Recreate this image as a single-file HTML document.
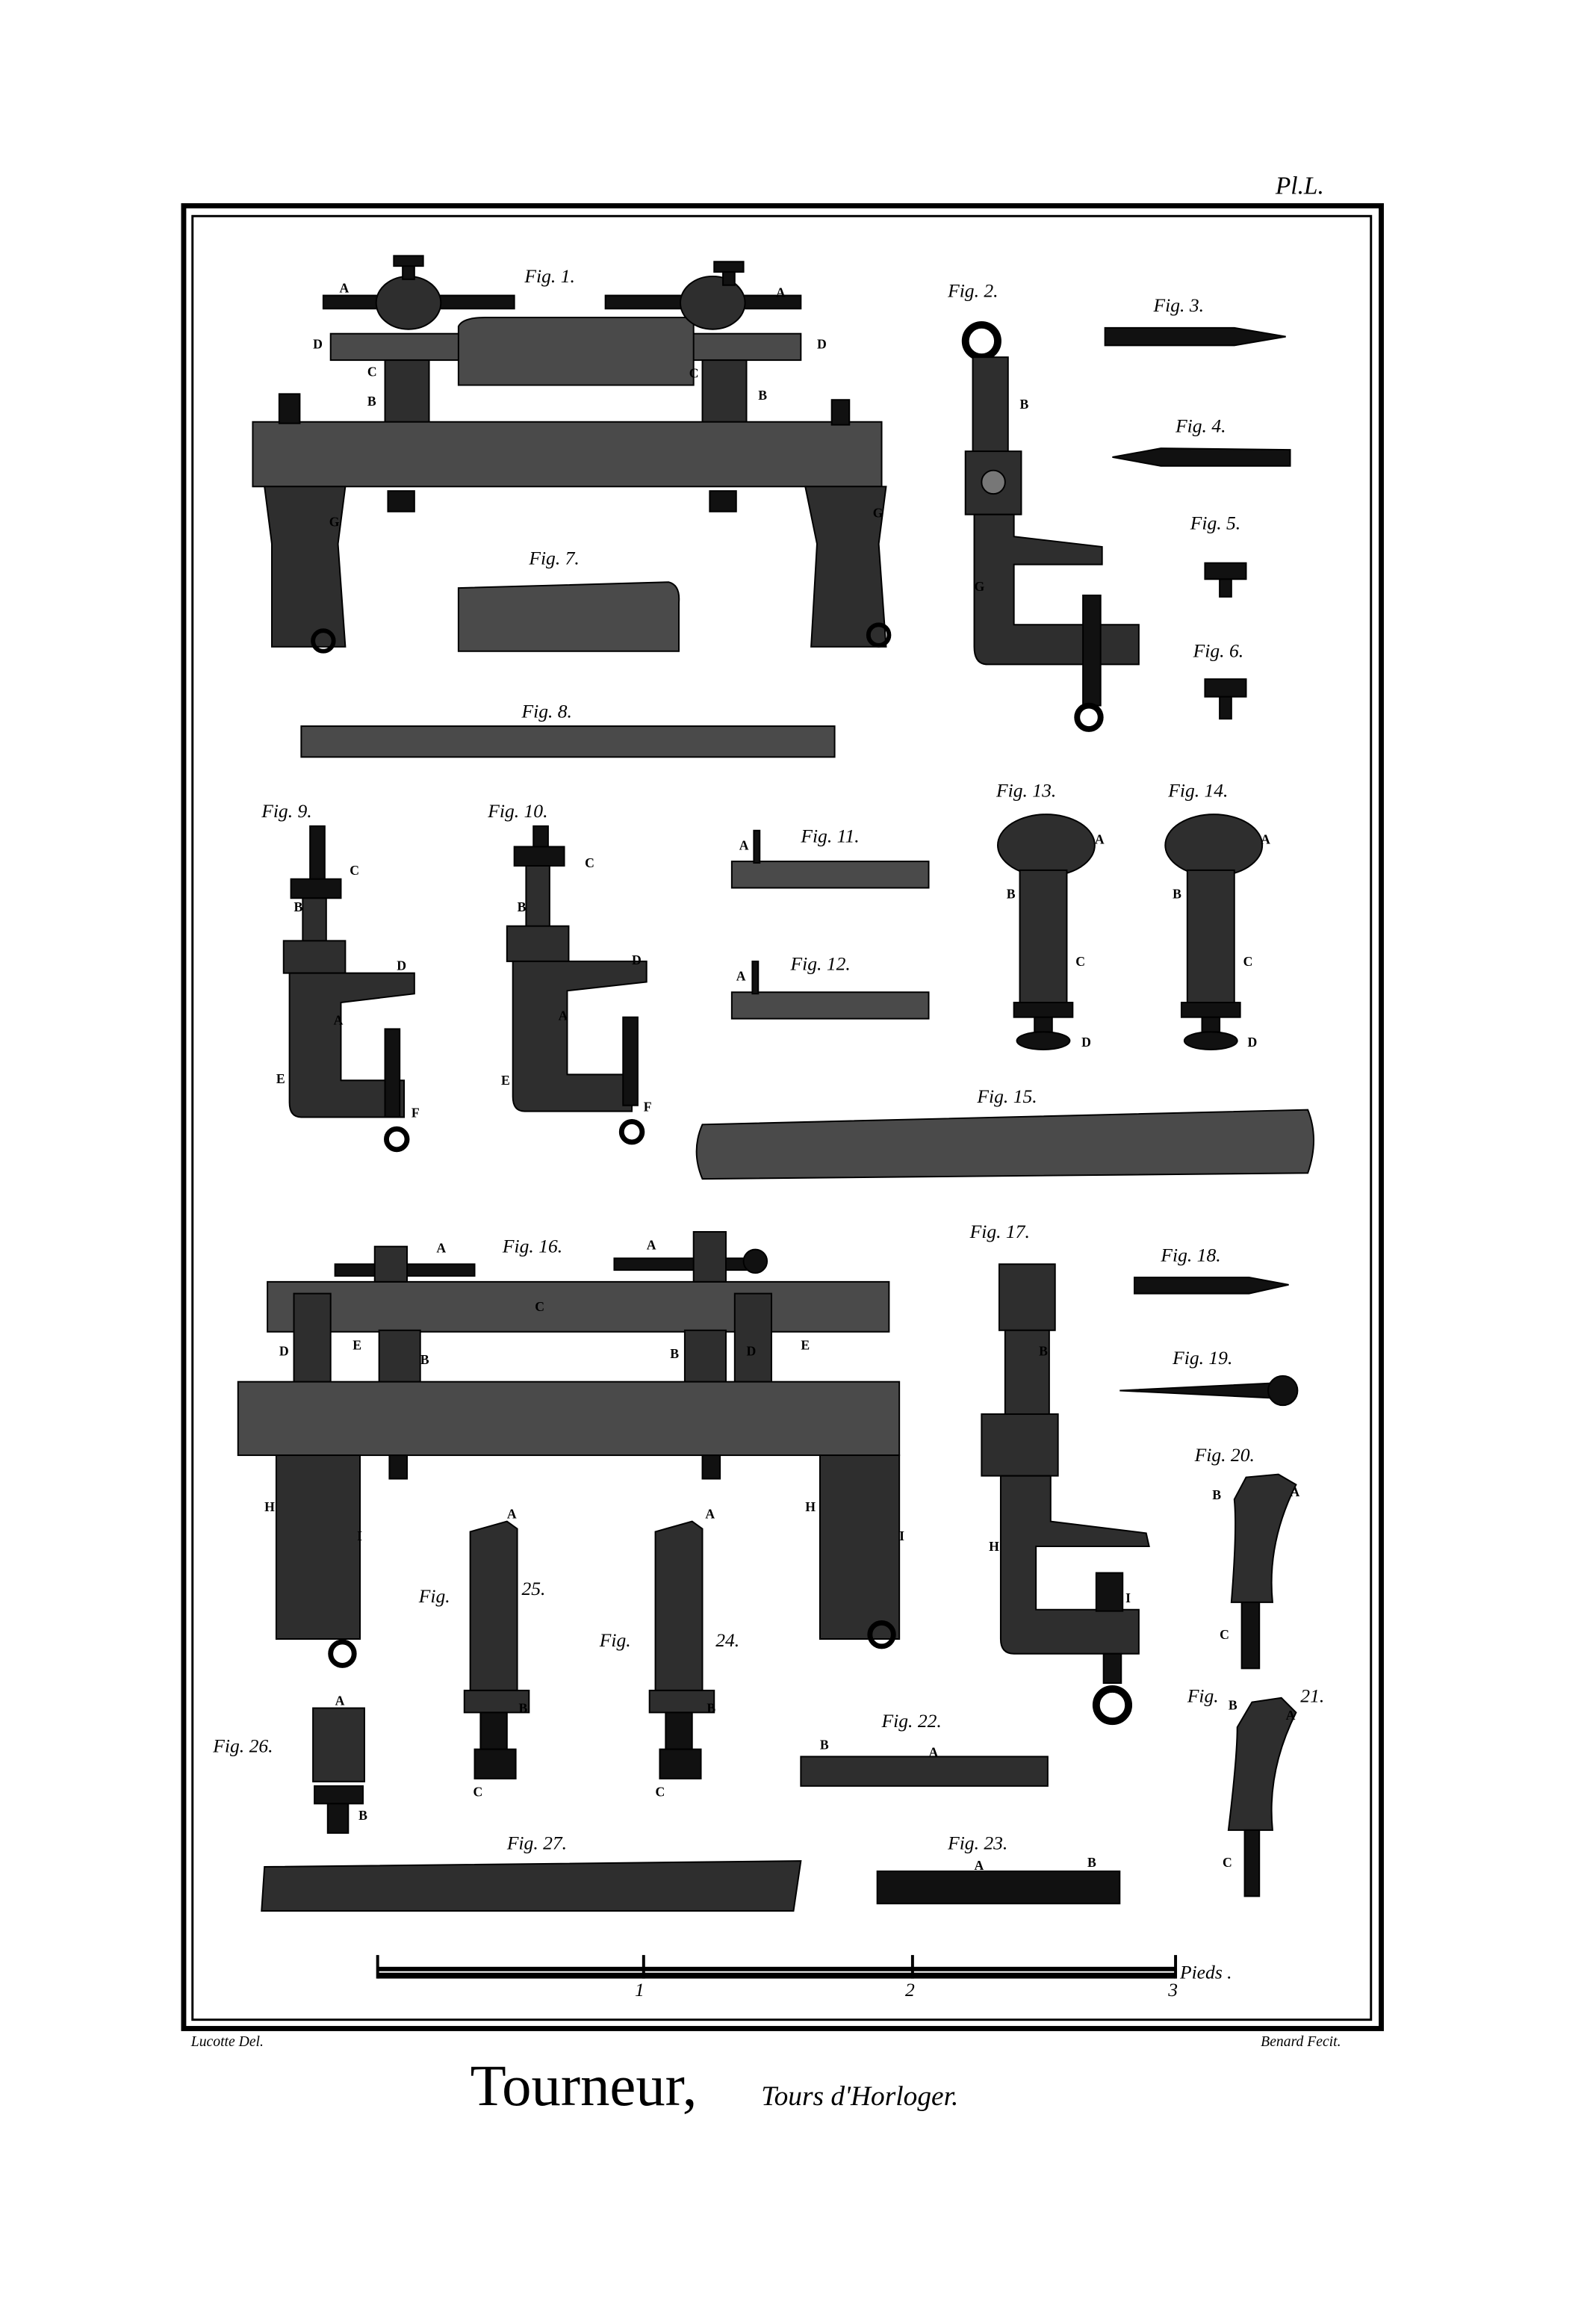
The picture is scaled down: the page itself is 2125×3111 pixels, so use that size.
<!DOCTYPE html>
<html><head><meta charset="utf-8"><style>
html,body{margin:0;padding:0;background:#fff}
svg{display:block}
.f{font-family:"Liberation Serif",serif;font-style:italic;font-size:13px;fill:#000}
.l{font-family:"Liberation Serif",serif;font-weight:bold;font-size:9px;fill:#000}
.d{fill:#2e2e2e;stroke:#000;stroke-width:1}
.m{fill:#4a4a4a;stroke:#000;stroke-width:1}
.k{fill:#111;stroke:#000;stroke-width:1}
</style></head><body>
<svg width="2125" height="3111" viewBox="0 0 1080 1581" preserveAspectRatio="none" xmlns="http://www.w3.org/2000/svg">
<rect width="1080" height="1581" fill="#fff"/>
<!-- border -->
<rect x="125" y="140" width="815" height="1240" fill="none" stroke="#000" stroke-width="3.5"/>
<rect x="131" y="147" width="802" height="1227" fill="none" stroke="#000" stroke-width="1.5"/>
<text x="868" y="132" class="f" style="font-size:17px">Pl.L.</text>
<text x="130" y="1392" class="f" style="font-size:10px">Lucotte Del.</text>
<text x="858" y="1392" class="f" style="font-size:10px">Benard Fecit.</text>
<text x="320" y="1432" class="f" style="font-size:40px;font-style:normal;font-family:'Liberation Serif',serif">Tourneur,</text>
<text x="518" y="1432" class="f" style="font-size:19px">Tours d'Horloger.</text>

<!-- Fig 1 -->
<text x="357" y="192" class="f">Fig. 1.</text>
<rect x="225" y="227" width="320" height="18" class="m"/>
<path d="M312 222 Q315 216 330 216 L472 216 L472 262 L312 262Z" class="m"/>
<rect x="220" y="201" width="130" height="9" class="k"/>
<ellipse cx="278" cy="206" rx="22" ry="18" class="d"/>
<rect x="274" y="178" width="8" height="12" class="k"/><rect x="268" y="174" width="20" height="7" class="k"/>
<rect x="412" y="201" width="133" height="9" class="k"/>
<ellipse cx="485" cy="206" rx="22" ry="18" class="d"/>
<rect x="492" y="182" width="8" height="12" class="k"/><rect x="486" y="178" width="20" height="7" class="k"/>
<rect x="262" y="245" width="30" height="45" class="d"/>
<rect x="478" y="245" width="30" height="45" class="d"/>
<rect x="172" y="287" width="428" height="44" class="m"/>
<rect x="190" y="268" width="14" height="20" class="k"/>
<rect x="566" y="272" width="12" height="17" class="k"/>
<path d="M180 331 L235 331 L230 370 L235 440 L185 440 L185 370Z" class="d"/>
<path d="M548 331 L603 331 L598 370 L603 440 L552 440 L556 370Z" class="d"/>
<circle cx="220" cy="436" r="7" fill="none" stroke="#000" stroke-width="3"/>
<circle cx="598" cy="432" r="7" fill="none" stroke="#000" stroke-width="3"/>
<rect x="264" y="334" width="18" height="14" class="k"/>
<rect x="483" y="334" width="18" height="14" class="k"/>
<text x="231" y="199" class="l">A</text><text x="528" y="202" class="l">A</text>
<text x="213" y="237" class="l">D</text><text x="556" y="237" class="l">D</text>
<text x="250" y="256" class="l">C</text><text x="469" y="257" class="l">C</text>
<text x="250" y="276" class="l">B</text><text x="516" y="272" class="l">B</text>
<text x="224" y="358" class="l">G</text><text x="594" y="352" class="l">G</text>

<!-- Fig 7, 8 -->
<text x="360" y="384" class="f">Fig. 7.</text>
<path d="M312 400 L455 396 Q463 398 462 410 L462 443 L312 443Z" class="m"/>
<text x="355" y="488" class="f">Fig. 8.</text>
<rect x="205" y="494" width="363" height="21" class="m"/>

<!-- Fig 2 -->
<text x="645" y="202" class="f">Fig. 2.</text>
<circle cx="668" cy="232" r="11" fill="none" stroke="#000" stroke-width="5"/>
<rect x="662" y="243" width="24" height="66" class="d"/>
<rect x="657" y="307" width="38" height="43" class="d"/>
<circle cx="676" cy="328" r="8" fill="#777" stroke="#000"/>
<path d="M663 350 L690 350 L690 365 L750 372 L750 384 L690 384 L690 425 L775 425 L775 452 L672 452 Q663 452 663 440Z" class="d"/>
<rect x="737" y="405" width="12" height="75" class="k"/>
<circle cx="741" cy="488" r="8" fill="none" stroke="#000" stroke-width="4"/>
<text x="694" y="278" class="l">B</text><text x="663" y="402" class="l">G</text>

<!-- Fig 3-6 -->
<text x="785" y="212" class="f">Fig. 3.</text>
<path d="M752 223 L840 223 L875 229 L840 235 L752 235Z" class="k"/>
<text x="800" y="294" class="f">Fig. 4.</text>
<path d="M757 311 L790 305 L878 306 L878 317 L790 317Z" class="k"/>
<text x="810" y="360" class="f">Fig. 5.</text>
<rect x="820" y="383" width="28" height="11" class="k"/><rect x="830" y="394" width="8" height="12" class="k"/>
<text x="812" y="447" class="f">Fig. 6.</text>
<rect x="820" y="462" width="28" height="12" class="k"/><rect x="830" y="474" width="8" height="15" class="k"/>

<!-- Fig 9 -->
<text x="178" y="556" class="f">Fig. 9.</text>
<rect x="211" y="562" width="10" height="38" class="k"/>
<rect x="198" y="598" width="34" height="13" class="k"/>
<rect x="206" y="611" width="16" height="30" class="d"/>
<rect x="193" y="640" width="42" height="22" class="d"/>
<path d="M197 662 L282 662 L282 676 L232 682 L232 735 L275 735 L275 760 L205 760 Q197 760 197 750Z" class="d"/>
<rect x="262" y="700" width="10" height="60" class="k"/>
<circle cx="270" cy="775" r="7" fill="none" stroke="#000" stroke-width="3.5"/>
<text x="238" y="595" class="l">C</text><text x="200" y="620" class="l">B</text><text x="270" y="660" class="l">D</text>
<text x="227" y="697" class="l">A</text><text x="188" y="737" class="l">E</text><text x="280" y="760" class="l">F</text>
<!-- Fig 10 -->
<text x="332" y="556" class="f">Fig. 10.</text>
<rect x="363" y="562" width="10" height="38" class="k"/>
<rect x="350" y="576" width="34" height="13" class="k"/>
<rect x="358" y="589" width="16" height="44" class="d"/>
<rect x="345" y="630" width="42" height="24" class="d"/>
<path d="M349 654 L440 654 L440 668 L386 674 L386 731 L430 731 L430 756 L357 756 Q349 756 349 746Z" class="d"/>
<rect x="424" y="692" width="10" height="60" class="k"/>
<circle cx="430" cy="770" r="7" fill="none" stroke="#000" stroke-width="3.5"/>
<text x="398" y="590" class="l">C</text><text x="352" y="620" class="l">B</text><text x="430" y="656" class="l">D</text>
<text x="380" y="694" class="l">A</text><text x="341" y="738" class="l">E</text><text x="438" y="756" class="l">F</text>

<!-- Fig 11, 12 -->
<text x="545" y="573" class="f">Fig. 11.</text>
<rect x="498" y="586" width="134" height="18" class="m"/><rect x="513" y="565" width="4" height="22" class="k"/>
<text x="503" y="578" class="l">A</text>
<text x="538" y="660" class="f">Fig. 12.</text>
<rect x="498" y="675" width="134" height="18" class="m"/><rect x="512" y="654" width="4" height="22" class="k"/>
<text x="501" y="667" class="l">A</text>

<!-- Fig 13, 14 -->
<text x="678" y="542" class="f">Fig. 13.</text>
<ellipse cx="712" cy="575" rx="33" ry="21" class="d"/>
<rect x="694" y="592" width="32" height="98" class="d"/>
<rect x="690" y="682" width="40" height="10" class="k"/>
<rect x="704" y="692" width="12" height="10" class="k"/>
<ellipse cx="710" cy="708" rx="18" ry="6" class="k"/>
<text x="745" y="574" class="l">A</text><text x="685" y="611" class="l">B</text><text x="732" y="657" class="l">C</text><text x="736" y="712" class="l">D</text>
<text x="795" y="542" class="f">Fig. 14.</text>
<ellipse cx="826" cy="575" rx="33" ry="21" class="d"/>
<rect x="808" y="592" width="32" height="98" class="d"/>
<rect x="804" y="682" width="40" height="10" class="k"/>
<rect x="818" y="692" width="12" height="10" class="k"/>
<ellipse cx="824" cy="708" rx="18" ry="6" class="k"/>
<text x="858" y="574" class="l">A</text><text x="798" y="611" class="l">B</text><text x="846" y="657" class="l">C</text><text x="849" y="712" class="l">D</text>

<!-- Fig 15 -->
<text x="665" y="750" class="f">Fig. 15.</text>
<path d="M478 765 L890 755 Q898 775 890 798 L478 802 Q470 783 478 765Z" class="m"/>

<!-- Fig 16 -->
<text x="342" y="852" class="f">Fig. 16.</text>
<rect x="182" y="872" width="423" height="34" class="m"/>
<rect x="228" y="860" width="95" height="8" class="k"/>
<rect x="255" y="848" width="22" height="24" class="d"/>
<rect x="418" y="856" width="95" height="8" class="k"/>
<rect x="472" y="838" width="22" height="34" class="d"/>
<circle cx="514" cy="858" r="8" class="k"/>
<rect x="200" y="880" width="25" height="98" class="d"/>
<rect x="500" y="880" width="25" height="98" class="d"/>
<rect x="258" y="905" width="28" height="40" class="d"/>
<rect x="466" y="905" width="28" height="40" class="d"/>
<rect x="162" y="940" width="450" height="50" class="m"/>
<rect x="188" y="990" width="57" height="125" class="d"/>
<rect x="558" y="990" width="54" height="125" class="d"/>
<circle cx="233" cy="1125" r="8" fill="none" stroke="#000" stroke-width="3.5"/>
<circle cx="600" cy="1112" r="8" fill="none" stroke="#000" stroke-width="3.5"/>
<rect x="265" y="990" width="12" height="16" class="k"/><rect x="478" y="990" width="12" height="16" class="k"/>
<text x="297" y="852" class="l">A</text><text x="440" y="850" class="l">A</text>
<text x="364" y="892" class="l">C</text><text x="190" y="922" class="l">D</text><text x="508" y="922" class="l">D</text>
<text x="240" y="918" class="l">E</text><text x="545" y="918" class="l">E</text>
<text x="286" y="928" class="l">B</text><text x="456" y="924" class="l">B</text>
<text x="180" y="1028" class="l">H</text><text x="548" y="1028" class="l">H</text>
<text x="243" y="1048" class="l">I</text><text x="612" y="1048" class="l">I</text>

<!-- Fig 25, 24, 26 -->
<text x="285" y="1090" class="f">Fig.</text><text x="355" y="1085" class="f">25.</text>
<path d="M320 1042 L345 1035 L352 1040 L352 1150 L320 1150Z" class="d"/>
<rect x="316" y="1150" width="44" height="15" class="d"/>
<rect x="327" y="1165" width="18" height="25" class="k"/>
<rect x="323" y="1190" width="28" height="20" class="k"/>
<text x="345" y="1033" class="l">A</text><text x="353" y="1165" class="l">B</text><text x="322" y="1222" class="l">C</text>
<text x="408" y="1120" class="f">Fig.</text><text x="487" y="1120" class="f">24.</text>
<path d="M446 1042 L471 1035 L478 1040 L478 1150 L446 1150Z" class="d"/>
<rect x="442" y="1150" width="44" height="15" class="d"/>
<rect x="453" y="1165" width="18" height="25" class="k"/>
<rect x="449" y="1190" width="28" height="20" class="k"/>
<text x="480" y="1033" class="l">A</text><text x="481" y="1165" class="l">B</text><text x="446" y="1222" class="l">C</text>
<text x="145" y="1192" class="f">Fig. 26.</text>
<rect x="213" y="1162" width="35" height="50" class="d"/>
<rect x="214" y="1215" width="33" height="12" class="k"/>
<rect x="223" y="1227" width="14" height="20" class="k"/>
<text x="228" y="1160" class="l">A</text><text x="244" y="1238" class="l">B</text>

<!-- Fig 17 -->
<text x="660" y="842" class="f">Fig. 17.</text>
<rect x="680" y="860" width="38" height="45" class="d"/>
<rect x="684" y="905" width="30" height="58" class="d"/>
<rect x="668" y="962" width="52" height="42" class="d"/>
<path d="M681 1004 L715 1004 L715 1035 L780 1043 L782 1052 L705 1052 L705 1095 L775 1095 L775 1125 L690 1125 Q681 1125 681 1115Z" class="d"/>
<rect x="746" y="1070" width="18" height="26" class="k"/>
<rect x="751" y="1125" width="12" height="20" class="k"/>
<circle cx="757" cy="1160" r="11" fill="none" stroke="#000" stroke-width="5"/>
<text x="707" y="922" class="l">B</text><text x="673" y="1055" class="l">H</text><text x="766" y="1090" class="l">I</text>

<!-- Fig 18-21 -->
<text x="790" y="858" class="f">Fig. 18.</text>
<path d="M772 869 L850 869 L877 874 L850 880 L772 880Z" class="k"/>
<text x="798" y="928" class="f">Fig. 19.</text>
<path d="M762 946 L865 941 L865 951Z" class="k"/><circle cx="873" cy="946" r="10" class="k"/>
<text x="813" y="994" class="f">Fig. 20.</text>
<path d="M848 1005 L870 1003 L882 1010 Q862 1050 866 1090 L838 1090 Q842 1040 840 1020Z" class="d"/>
<rect x="845" y="1090" width="12" height="45" class="k"/>
<text x="825" y="1020" class="l">B</text><text x="878" y="1018" class="l">A</text><text x="830" y="1115" class="l">C</text>
<text x="808" y="1158" class="f">Fig.</text><text x="885" y="1158" class="f">21.</text>
<path d="M852 1158 L872 1155 L882 1165 Q862 1205 866 1245 L836 1245 Q842 1195 842 1175Z" class="d"/>
<rect x="847" y="1245" width="10" height="45" class="k"/>
<text x="836" y="1163" class="l">B</text><text x="875" y="1170" class="l">A</text><text x="832" y="1270" class="l">C</text>

<!-- Fig 22, 23, 27 -->
<text x="600" y="1175" class="f">Fig. 22.</text>
<rect x="545" y="1195" width="168" height="20" class="d"/>
<text x="558" y="1190" class="l">B</text><text x="632" y="1195" class="l">A</text>
<text x="645" y="1258" class="f">Fig. 23.</text>
<rect x="597" y="1273" width="165" height="22" class="k"/>
<text x="663" y="1272" class="l">A</text><text x="740" y="1270" class="l">B</text>
<text x="345" y="1258" class="f">Fig. 27.</text>
<path d="M180 1270 L545 1266 L540 1300 L178 1300Z" class="d"/>

<!-- scale -->
<rect x="257" y="1338" width="543" height="3" fill="#000"/>
<rect x="257" y="1342" width="543" height="4" fill="#000"/>
<rect x="256" y="1330" width="2" height="16" fill="#000"/>
<rect x="437" y="1330" width="2" height="16" fill="#000"/>
<rect x="620" y="1330" width="2" height="16" fill="#000"/>
<rect x="799" y="1330" width="2" height="16" fill="#000"/>
<text x="432" y="1358" class="f">1</text><text x="616" y="1358" class="f">2</text><text x="795" y="1358" class="f">3</text>
<text x="803" y="1346" class="f">Pieds .</text>
</svg>
</body></html>
